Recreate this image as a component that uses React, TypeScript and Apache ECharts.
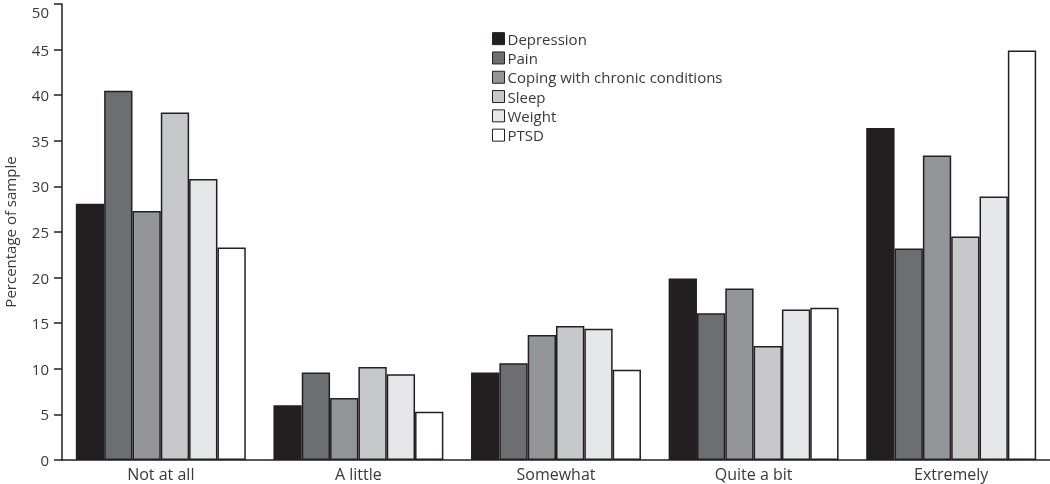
import React, { useEffect, useRef } from "react";
import * as echarts from "echarts";

const categories = ["Not at all", "A little", "Somewhat", "Quite a bit", "Extremely"];
const seriesNames = ["Depression", "Pain", "Coping with chronic conditions", "Sleep", "Weight", "PTSD"];
const depression = [28.1, 6.0, 9.6, 19.9, 36.4];
const pain = [40.5, 9.6, 10.6, 16.1, 23.2];
const coping = [27.3, 6.8, 13.7, 18.8, 33.4];
const sleep = [38.1, 10.2, 14.7, 12.5, 24.5];
const weight = [30.8, 9.4, 14.4, 16.5, 28.9];
const ptsd = [23.3, 5.3, 9.9, 16.7, 44.9];
const seriesValues = [depression, pain, coping, sleep, weight, ptsd];
const colors = ["#231f20", "#6d6e71", "#939598", "#c7c8ca", "#e6e7e8", "#ffffff"];

const FONT = "'Open Sans', Lato, sans-serif";
const TEXT = "#3a3839";

export default function App() {
  const ref = useRef<HTMLDivElement>(null);
  useEffect(() => {
    document.body.style.margin = "0";
    const chart = echarts.init(ref.current!, null, { renderer: "svg" });
    chart.setOption({
      animation: false,
      textStyle: { fontFamily: FONT },
      grid: { left: 62, right: 0, top: 4, bottom: 24, containLabel: false, outerBoundsMode: "none" },
      legend: {
        orient: "vertical",
        left: 487,
        top: 24,
        itemWidth: 12,
        itemHeight: 12,
        itemGap: 0,
        icon: "rect",
        data: seriesNames,
        textStyle: { fontSize: 15, color: TEXT, fontFamily: FONT, padding: [0, 0, 0, -2], lineHeight: 19.3 },
        itemStyle: { borderColor: "#231f20", borderWidth: 1 },
      },
      xAxis: {
        type: "category",
        data: categories,
        axisLine: { lineStyle: { color: "#231f20", width: 1.5 } },
        axisTick: { show: false },
        axisLabel: { fontSize: 16, color: TEXT, margin: 6, fontFamily: FONT },
      },
      yAxis: {
        type: "value",
        min: 0,
        max: 50,
        interval: 5,
        name: "Percentage of sample",
        nameLocation: "middle",
        nameGap: 45,
        nameTextStyle: { fontSize: 15, color: TEXT, fontFamily: FONT },
        axisLine: { show: true, lineStyle: { color: "#231f20", width: 1.5 } },
        axisTick: { show: true, length: 8, lineStyle: { color: "#231f20", width: 1.5 } },
        axisLabel: { fontSize: 15, color: TEXT, margin: 13, fontFamily: FONT, verticalAlignMaxLabel: "top" },
        splitLine: { show: false },
      },
      series: seriesNames.map((name, i) => ({
        name,
        type: "bar",
        data: seriesValues[i],
        barGap: "0%",
        barCategoryGap: "14%",
        itemStyle: { color: colors[i], borderColor: "#231f20", borderWidth: 1.5 },
      })),
    });
    return () => chart.dispose();
  }, []);
  return (
    <div
      ref={ref}
      style={{ position: "fixed", left: 0, top: 0, width: 1050, height: 484 }}
    />
  );
}
